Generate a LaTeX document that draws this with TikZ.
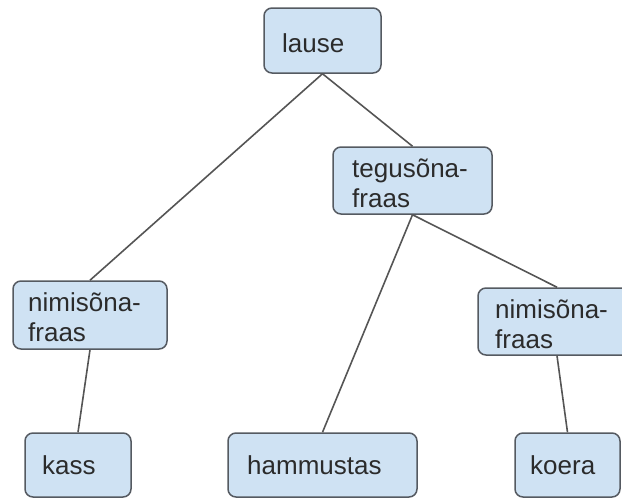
\documentclass[tikz,border=0pt]{standalone}
\usepackage{fontspec}
\setmainfont{Liberation Sans}
\definecolor{boxfill}{HTML}{CFE2F3}
\definecolor{boxline}{HTML}{555A61}
\definecolor{edgecol}{HTML}{555555}
\definecolor{txtcol}{HTML}{2B2B2B}
\tikzset{
  treebox/.style={draw=boxline, fill=boxfill, line width=1.5pt, rounded corners=8pt, inner sep=0pt},
  lbl/.style={anchor=base west, inner sep=0pt, text=txtcol, font=\fontsize{26}{30}\selectfont},
  edge/.style={draw=edgecol, line width=1.6pt}
}
\begin{document}
\begin{tikzpicture}[x=1pt,y=-1pt]
\useasboundingbox (0,0) rectangle (622,498);
\clip (0,0) rectangle (622,498);
% boxes
\node[treebox, minimum width=117pt, minimum height=65pt] (lause) at (322.5,40.5) {};
\node[treebox, minimum width=159pt, minimum height=67pt] (teg) at (412.5,180.5) {};
\node[treebox, minimum width=154pt, minimum height=68pt] (npL) at (90,315) {};
\node[treebox, minimum width=158pt, minimum height=67pt] (npR) at (557,321.5) {};
\node[treebox, minimum width=106pt, minimum height=64pt] (kass) at (78,465) {};
\node[treebox, minimum width=189pt, minimum height=64pt] (hamm) at (322.5,465) {};
\node[treebox, minimum width=105pt, minimum height=64pt] (koera) at (567.5,465) {};
% labels
\node[lbl] (lauseT) at (282,52) {lause};
\node[lbl] (tegT1) at (352,177) {tegusõna-};
\node[lbl] (tegT2) at (352,207) {fraas};
\node[lbl] (npLT1) at (28,311) {nimisõna-};
\node[lbl] (npLT2) at (28,341) {fraas};
\node[lbl] (npRT1) at (495,318) {nimisõna-};
\node[lbl] (npRT2) at (495,348) {fraas};
\node[lbl] (kassT) at (42,474) {kass};
\node[lbl] (hammT) at (247,474) {hammustas};
\node[lbl] (koeraT) at (530,474) {koera};
% edges
\draw[edge] (lause.south) -- (npL.north);
\draw[edge] (lause.south) -- (teg.north);
\draw[edge] (teg.south) -- (hamm.north);
\draw[edge] (teg.south) -- (npR.north);
\draw[edge] (npL.south) -- (kass.north);
\draw[edge] (npR.south) -- (koera.north);
\end{tikzpicture}
\end{document}
